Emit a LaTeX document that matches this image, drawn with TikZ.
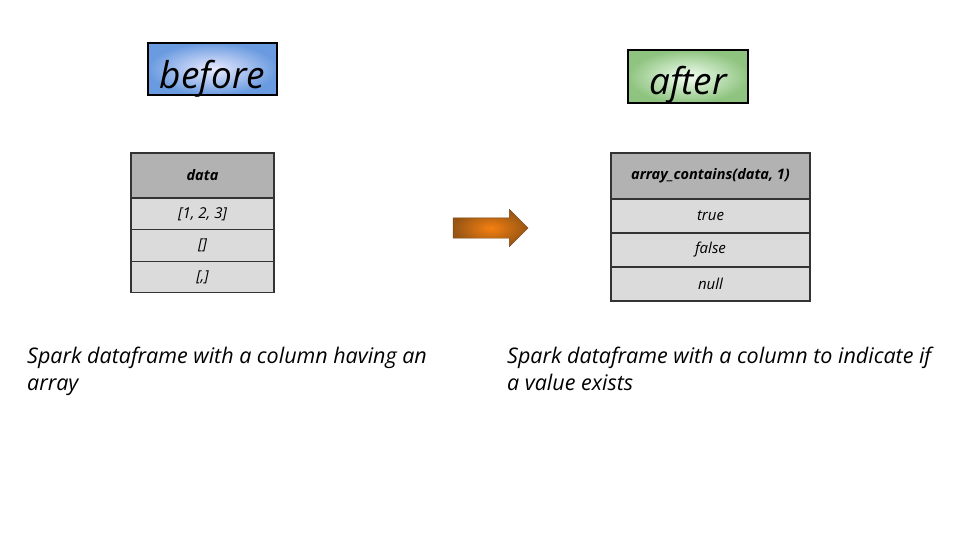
\documentclass[tikz,border=0pt]{standalone}
\usepackage{fontspec}
\setmainfont{Open Sans}
\usetikzlibrary{shapes.arrows}

\tikzset{
  tag/.style={draw=black, line width=2.2pt, inner sep=0pt, font=\itshape\fontsize{37}{40}\selectfont},
  cell/.style={draw=black!80, line width=1.4pt, fill=black!14, inner sep=0pt,
    font=\itshape\fontsize{15}{17}\selectfont},
  headcell/.style={cell, fill=black!30, font=\bfseries\itshape\fontsize{14.5}{17}\selectfont},
  caption/.style={anchor=north west, align=left, inner sep=0pt,
    font=\itshape\fontsize{21.5}{27}\selectfont}
}

\begin{document}
\begin{tikzpicture}[x=1pt,y=-1pt]

   \useasboundingbox (0,0) rectangle (960,540);

   % before / after labels
   \node (Before) at (212.5,69) [tag, minimum width=129pt, text height=46pt, text depth=6pt,
      shading=radial, inner color=blue!8, outer color={rgb,255:red,106;green,155;blue,224}] {before};
   \node (After) at (688,76.5) [tag, minimum width=120pt, text height=45pt, text depth=8pt,
      shading=radial, inner color=green!5, outer color={rgb,255:red,143;green,196;blue,128}] {after};

   % before table
   \node (DataHead) at (202.5,175.5) [headcell, minimum width=143pt, minimum height=45pt] {data};
   \node (RowA) at (202.5,214) [cell, minimum width=143pt, minimum height=31.5pt] {[1, 2, 3]};
   \node (RowB) at (202.5,245.5) [cell, minimum width=143pt, minimum height=31.5pt] {[]};
   \node (RowC) at (202.5,277) [cell, minimum width=143pt, minimum height=31.5pt] {[,]};

   % after table
   \node (ContHead) at (710.5,176) [headcell, minimum width=199pt, minimum height=46pt] {array\_contains(data, 1)};
   \node (True) at (710.5,216) [cell, minimum width=199pt, minimum height=34pt] {true};
   \node (False) at (710.5,250) [cell, minimum width=199pt, minimum height=34pt] {false};
   \node (Null) at (710.5,284) [cell, minimum width=199pt, minimum height=34pt] {null};

   % arrow
   \node (Arrow) at (485.5,228) [single arrow, inner sep=0pt, minimum height=75pt, minimum width=37pt,
      single arrow head extend=8.5pt, draw={rgb,255:red,120;green,70;blue,20}, line width=0.4pt,
      shading=radial, inner color={rgb,255:red,245;green,128;blue,16},
      outer color={rgb,255:red,150;green,85;blue,20}] {\rule{0pt}{20pt}};

   % captions
   \node (CapBefore) at (27,347) [caption] {Spark dataframe with a column having an\\array};
   \node (CapAfter) at (507,347) [caption] {Spark dataframe with a column to indicate if\\a value exists};

\end{tikzpicture}
\end{document}
